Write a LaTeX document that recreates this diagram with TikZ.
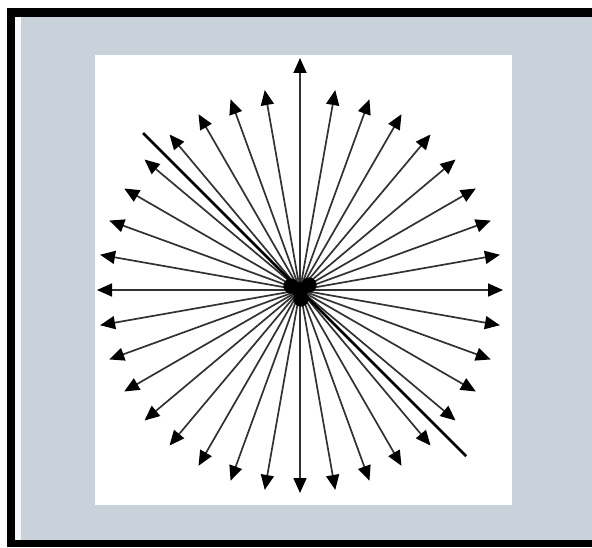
\documentclass[tikz,border=0pt]{standalone}
\usepackage{tikz}
\usepackage{xcolor}
\usetikzlibrary{arrows.meta}

\definecolor{panelgray}{RGB}{201,209,219}
\definecolor{raygray}{RGB}{50,50,50}

\begin{document}
\begin{tikzpicture}[x=0.5pt, y=0.5pt,
		ray/.style={draw=raygray, line width=0.85pt, -{Triangle[length=7.5pt, width=6.5pt, fill=black, color=black]}}]
				\useasboundingbox (0,0) rectangle (592,547);
				
				% Panel and frame
				\fill[panelgray] (11,3) rectangle (592,535);
				\fill[white!85!panelgray] (15,7) rectangle (21,531);
				\fill[black] (7,539) rectangle (592,530);
				\fill[black] (7,0) rectangle (15,539);
				\fill[black] (7,0) rectangle (592,7);
				
				% White square
				\fill[white] (95,42) rectangle (512,492);
				
				% Centre
				\coordinate (c) at (300,257);
				
				% Rays every 10 degrees
				\foreach \a in {0,10,...,350} {
					\ifnum\a=90
						\draw[ray] (c) -- ++(\a:232);
					\else
						\draw[ray] (c) -- ++(\a:203);
					\fi
				}
				
				% Long diagonal line
				\draw[black, line width=1.4pt] (c) -- ++(135:222);
				\draw[black, line width=1.4pt] (c) -- ++(315:235);
				
				% Dark knot in the middle
				\fill[black] (c) ++(-9,4) circle[radius=3.8pt];
				\fill[black] (c) ++(9,5) circle[radius=3.8pt];
				\fill[black] (c) ++(1,-9) circle[radius=3.8pt];
				\fill[black] (c) circle[radius=4pt];
			\end{tikzpicture}
\end{document}
